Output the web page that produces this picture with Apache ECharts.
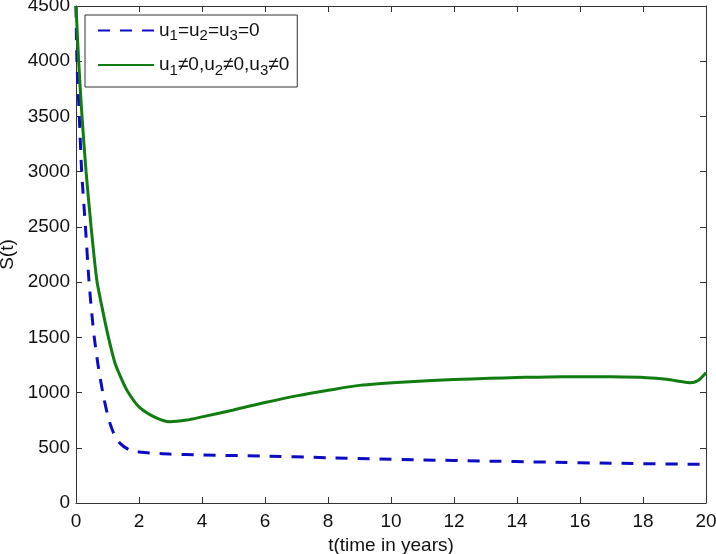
<!DOCTYPE html>
<html>
<head>
<meta charset="utf-8">
<script src="https://cdn.jsdelivr.net/npm/echarts@6/dist/echarts.min.js"></script>
<style>html,body{margin:0;padding:0;background:#fff}#c{width:716px;height:554px}</style>
</head>
<body>
<div id="c"></div>
<script>
// Data
var tBlue = [0, 0.03, 0.105, 0.18, 0.3, 0.41, 0.5, 0.58, 0.7, 0.85, 1.0, 1.08, 1.2, 1.4, 1.7, 2.08, 2.5, 2.98, 4, 5.9, 8, 9.33, 11, 12.9, 15, 17, 20];
var sBlue = [4500, 4000, 3500, 3000, 2500, 2019, 1720, 1500, 1250, 1000, 800, 721, 630, 540, 480, 459, 450, 443, 435, 425, 410, 401, 390, 380, 370, 360, 350];
var tGreen = [0, 0.085, 0.19, 0.32, 0.48, 0.66, 0.85, 1.03, 1.24, 1.45, 1.66, 2.0, 2.48, 2.98, 3.51, 4, 5, 5.52, 6, 7, 8.06, 9, 10.6, 12, 13.14, 14, 15.46, 17, 18.12, 18.75, 19.2, 19.49, 19.75, 20];
var sGreen = [4500, 4000, 3500, 3000, 2500, 2019, 1740, 1500, 1265, 1120, 1000, 870, 780, 736, 751, 780, 842, 878, 910, 970, 1023, 1065, 1098, 1118, 1129, 1136, 1144, 1142, 1135, 1120, 1100, 1089, 1110, 1180];
var xTicks = {min: 0, max: 20, interval: 2};
var yTicks = {min: 0, max: 4500, interval: 500};
var seriesNames = ['u1=u2=u3=0', 'u1≠0,u2≠0,u3≠0'];
var xTitle = 't(time in years)';
var yTitle = 'S(t)';

function pairs(t, s) { return t.map(function (v, i) { return [v, s[i]]; }); }

var FONT = "'Liberation Sans', Arial, sans-serif";
var AX = '#333333';
var TXT = '#111111';
var chart = echarts.init(document.getElementById('c'), null, {renderer: 'canvas'});

function legendFmt(name) {
  var out = '';
  for (var i = 0; i < name.length; i++) {
    var ch = name[i];
    if (/[0-9]/.test(ch) && i > 0 && name[i - 1] === 'u') out += '{s|' + ch + '}';
    else out += '{a|' + ch + '}';
  }
  return out;
}

chart.setOption({
  animation: false,
  backgroundColor: '#ffffff',
  grid: {left: 76, right: 10, top: 6, bottom: 51, containLabel: false, outerBoundsMode: 'none'},
  legend: {
    orient: 'vertical',
    left: 85, top: 15,
    padding: [6, 8, 9, 12],
    itemWidth: 56, itemHeight: 20, itemGap: 12,
    backgroundColor: '#ffffff',
    borderColor: AX, borderWidth: 1, borderRadius: 0,
    align: 'left',
    data: seriesNames,
    formatter: legendFmt,
    itemStyle: {opacity: 0},
    textStyle: {
      fontFamily: FONT, color: TXT,
      rich: {
        a: {fontSize: 19, fontFamily: FONT, color: TXT},
        s: {fontSize: 15, fontFamily: FONT, color: TXT, padding: [11, 0, 0, 0]}
      }
    }
  },
  xAxis: [{
    type: 'value', min: xTicks.min, max: xTicks.max, interval: xTicks.interval,
    name: xTitle, nameLocation: 'middle', nameGap: 31,
    nameTextStyle: {fontFamily: FONT, fontSize: 19, color: TXT},
    axisLine: {show: true, onZero: false, lineStyle: {color: AX, width: 1}},
    axisTick: {show: true, inside: true, length: 6, lineStyle: {color: AX}},
    axisLabel: {fontFamily: FONT, fontSize: 19, color: TXT, margin: 9},
    splitLine: {show: false}
  }, {
    type: 'value', position: 'top', min: xTicks.min, max: xTicks.max, interval: xTicks.interval,
    axisLine: {show: true, onZero: false, lineStyle: {color: AX, width: 1}},
    axisTick: {show: true, inside: true, length: 6, lineStyle: {color: AX}},
    axisLabel: {show: false}, splitLine: {show: false}
  }],
  yAxis: [{
    type: 'value', min: yTicks.min, max: yTicks.max, interval: yTicks.interval,
    name: yTitle, nameLocation: 'middle', nameGap: 53, nameRotate: 90,
    nameTextStyle: {fontFamily: FONT, fontSize: 19, color: TXT},
    axisLine: {show: true, onZero: false, lineStyle: {color: AX, width: 1}},
    axisTick: {show: true, inside: true, length: 6, lineStyle: {color: AX}},
    axisLabel: {fontFamily: FONT, fontSize: 19, color: TXT, margin: 6,
      formatter: function (v) { return String(v); }},
    splitLine: {show: false}
  }, {
    type: 'value', position: 'right', min: yTicks.min, max: yTicks.max, interval: yTicks.interval,
    axisLine: {show: true, onZero: false, lineStyle: {color: AX, width: 1}},
    axisTick: {show: true, inside: true, length: 6, lineStyle: {color: AX}},
    axisLabel: {show: false}, splitLine: {show: false}
  }],
  series: [{
    name: seriesNames[0], type: 'line', data: pairs(tBlue, sBlue),
    showSymbol: false, symbol: 'none', smooth: 0.25,
    lineStyle: {color: '#0c0cc6', width: 3, type: [12, 10]},
    itemStyle: {color: '#0c0cc6'}, z: 2
  }, {
    name: seriesNames[1], type: 'line', data: pairs(tGreen, sGreen),
    showSymbol: false, symbol: 'none', smooth: 0.25,
    lineStyle: {color: '#117d11', width: 3, type: 'solid'},
    itemStyle: {color: '#117d11'}, z: 3
  }]
});
</script>
</body>
</html>
